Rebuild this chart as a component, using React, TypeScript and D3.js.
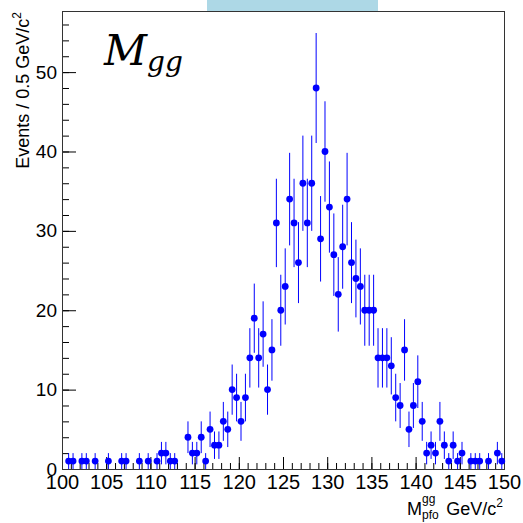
import React, { useEffect, useRef } from "react";
import * as d3 from "d3";

// invariant mass histogram, 0.5 GeV/c^2 bins from 100 to 150
const xRange: [number, number] = [100, 150];
const binWidth = 0.5;
const counts = [
  0, 1, 1, 0, 1, 1, 0, 1, 0, 0,
  1, 0, 0, 1, 1, 0, 0, 1, 0, 1,
  0, 1, 2, 2, 1, 1, 0, 0, 4, 2,
  2, 4, 1, 5, 3, 3, 6, 5, 10, 9,
  6, 9, 14, 19, 14, 17, 10, 15, 31, 20,
  23, 34, 31, 26, 36, 31, 36, 48, 29, 40,
  33, 27, 22, 28, 34, 26, 24, 23, 20, 20,
  20, 14, 14, 14, 13, 9, 8, 15, 5, 8,
  11, 6, 2, 3, 2, 6, 3, 1, 3, 1,
  2, 0, 1, 1, 1, 0, 1, 0, 2, 1,
];
const xMajorTicks = [100, 105, 110, 115, 120, 125, 130, 135, 140, 145, 150];
const yMajorTicks = [0, 10, 20, 30, 40, 50];
const yMax = 57.7;

const sans = "'Liberation Sans', Arial, Helvetica, sans-serif";
const blue = "#0000ff";

function MggPlot() {
  const ref = useRef<SVGSVGElement>(null);

  useEffect(() => {
    const svg = d3.select(ref.current);
    svg.selectAll("*").remove();

    const width = 523;
    const height = 523;
    const margin = { top: 11, right: 19, bottom: 54, left: 62 };

    const x = d3
      .scaleLinear()
      .domain(xRange)
      .range([margin.left, width - margin.right]);
    const y = d3
      .scaleLinear()
      .domain([0, yMax])
      .range([height - margin.bottom, margin.top]);

    // title box peeking at the top
    svg
      .append("rect")
      .attr("x", 207)
      .attr("y", 0)
      .attr("width", 171)
      .attr("height", 11)
      .attr("fill", "#add8e6");

    // minor x ticks
    const xMinor = svg
      .append("g")
      .attr("transform", "translate(0," + y(0) + ")")
      .call(
        d3
          .axisBottom(x)
          .tickValues(d3.range(100, 151, 1))
          .tickSize(-6)
          .tickFormat(() => "")
      );
    xMinor.select(".domain").remove();

    const xAxis = svg
      .append("g")
      .attr("transform", "translate(0," + y(0) + ")")
      .call(
        d3
          .axisBottom(x)
          .tickValues(xMajorTicks)
          .tickSize(-12)
          .tickPadding(6)
          .tickFormat(d3.format("d"))
      );
    xAxis.select(".domain").remove();
    xAxis.attr("font-size", 20).attr("font-family", sans);

    const yMinor = svg
      .append("g")
      .attr("transform", "translate(" + x(100) + ",0)")
      .call(
        d3
          .axisLeft(y)
          .tickValues(d3.range(0, 58, 2))
          .tickSize(-7)
          .tickFormat(() => "")
      );
    yMinor.select(".domain").remove();

    const yAxis = svg
      .append("g")
      .attr("transform", "translate(" + x(100) + ",0)")
      .call(
        d3
          .axisLeft(y)
          .tickValues(yMajorTicks)
          .tickSize(-14)
          .tickPadding(5)
          .tickFormat(d3.format("d"))
      );
    yAxis.select(".domain").remove();
    yAxis.attr("font-size", 19).attr("font-family", sans);

    // frame
    svg
      .append("rect")
      .attr("x", x(100) + 0.5)
      .attr("y", y(yMax) + 0.5)
      .attr("width", x(150) - x(100))
      .attr("height", y(0) - y(yMax))
      .attr("fill", "none")
      .attr("stroke", "#333")
      .attr("stroke-width", 1);

    const bins = counts
      .map((n, i) => ({ center: xRange[0] + (i + 0.5) * binWidth, n }))
      .filter((d) => d.n > 0);

    svg
      .append("g")
      .selectAll("line")
      .data(bins)
      .enter()
      .append("line")
      .attr("x1", (d) => x(d.center))
      .attr("x2", (d) => x(d.center))
      .attr("y1", (d) => y(d.n - Math.sqrt(d.n)))
      .attr("y2", (d) => y(d.n + Math.sqrt(d.n)))
      .attr("stroke", blue)
      .attr("stroke-width", 1);

    svg
      .append("g")
      .selectAll("circle")
      .data(bins)
      .enter()
      .append("circle")
      .attr("cx", (d) => x(d.center))
      .attr("cy", (d) => y(d.n))
      .attr("r", 3.4)
      .attr("fill", blue);

    // big label in the corner
    const label = svg
      .append("text")
      .attr("x", 104)
      .attr("y", 65)
      .attr("font-family", "'DejaVu Serif', serif")
      .attr("font-style", "italic")
      .attr("fill", "#000");
    label.append("tspan").attr("font-size", 42).text("M");
    label.append("tspan").attr("font-size", 28).attr("dy", 6).text("gg");

    // y title
    const yTitle = svg
      .append("text")
      .attr("transform", "translate(29,12) rotate(-90)")
      .attr("text-anchor", "end")
      .attr("font-family", sans)
      .attr("font-size", 18)
      .attr("fill", "#000");
    yTitle.append("tspan").text("Events / 0.5 GeV/c");
    yTitle.append("tspan").attr("font-size", 12).attr("dy", -8).text("2");

    // x title: M^{gg}_{pfo} GeV/c^2
    const xt = svg
      .append("g")
      .attr("font-family", sans)
      .attr("fill", "#000");
    xt.append("text").attr("x", 407).attr("y", 515).attr("font-size", 18).text("M");
    xt.append("text").attr("x", 422).attr("y", 503).attr("font-size", 12).text("gg");
    xt.append("text").attr("x", 422).attr("y", 519).attr("font-size", 12).text("pfo");
    const unit = xt
      .append("text")
      .attr("x", 503)
      .attr("y", 515)
      .attr("text-anchor", "end")
      .attr("font-size", 18);
    unit.append("tspan").text("GeV/c");
    unit.append("tspan").attr("font-size", 12).attr("dy", -8).text("2");
  }, []);

  return (
    <svg
      ref={ref}
      width={523}
      height={523}
      style={{ position: "absolute", left: 0, top: 0, background: "#fff" }}
    />
  );
}

export default function App() {
  return <MggPlot />;
}
